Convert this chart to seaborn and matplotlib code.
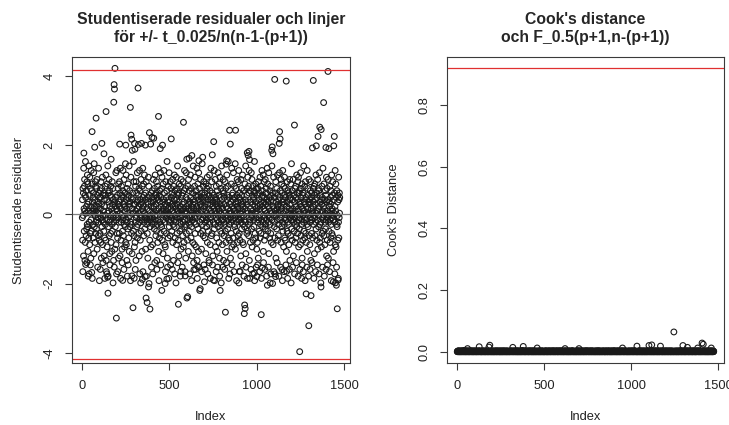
import numpy as np
import pandas as pd
import matplotlib
matplotlib.use('Agg')
import matplotlib.pyplot as plt
import seaborn as sns

# Studentized residuals, one character per observation (Index 1..n).
# Code position k in CODE gives the value (k - 30.5) * 0.065, so '0' = -1.98, 'U' = -0.03,
# 'V' = 0.03, 'z' = 1.98. Larger residuals are listed separately below.
CODE = '0123456789ABCDEFGHIJKLMNOPQRSTUVWXYZabcdefghijklmnopqrstuvwxyz'
resid_rows = [
    'TbJ5gUeCpSXNhkWAdIsRcVLfYO9jQmZPiE3WaKqURdHlVM8gYBSoNfTiG2aWQcKeXnDVrPY4bIUjhMRAWOgSkFdY7VaTLpRZeJ1c',
    'VMf6XcIjTBZgaPSlHU9dRWeNoCYbK2UhQdJmXA5SbTGiVOqZ3ePaWkLRfD8YSdMhUtIcXEQjNZVg0bTAeRK7WaFiYPcUnHSd4XoM',
    'WdK5TgZBiRaYMjQeCVp2XbJRhUdF9SNVfoTLcZ6kQaGWeYPrIUSmHbXAgR3cVOi8TdKZqEYfPUaJ1RlWcQMhSD7XeVTbNsZjLUG4',
    'ZcI6RhWAjTUePaXnKQbSV9dMgYCoRWfTJb0ZkNUHaSEhQXp5cYWiLRdVmOT8bYFeUKj3SQXgMcRBaZlVhTNd2WJqUPSkGaYe7RcI',
    'TfH4VaQkXCbYOgR9UmSdZLeWjNA6cQUhIbSpTEX1dVKfRaZnM8QcYgPTlJW3aSDiXbUoNVeRHZdG5YjTWcMfQsUB7aXKhVb2SnPY',
    'RaLjU8XgSEcTNeZ6WkIYQdAhVPbmS4UfKYcR0XlHbZMgTq9WdJSeVCaiURNXY3hTbFkQOWdU7ZeLjRGcXaIfSoPV5TgQBcWnMYt2',
    'VbJ8ShXEkUZdNfQ4TaRmcWKgY1PjUCSeIZbqV9XLaRHhTlMU6dQfGWcYpA2SXiOVdEnT7bUgJRa3ZkMYWcF5eSrQNVTbLhXj8dUI',
    'YeK6RcWDiTSaPgVlIZ4bUhNXdA9QmRZfH2TbpWLcVjMeS8YCaURgJdXoO1WbQkGcTZ5hVKaSEfY7UnPXdRIiWB3ZlTcVNgQ0SqMY',
    'XbH7UfSkARZeLcV6QjNWTgIaY9RmEbUdOhXsKS2VcQJfZ4WlBTaRMiVpG8YdSeKbUnHX5QWhPcTrF3ZaVgN1RdkYIUXaLjSo0cMW',
    'SeJ5VbXCkRTgOdZ8WmIQYaHfU3SjPcXiKbRqD7VaZdMgT2WlNUQhLeYoA9ScRfIaX6VnOTUkGdW4ZhJbScPfQs1YeMVaKiT7XgFR',
    'WdI8RgYBjSTbNeU5XlKZQhMaV2ScoHYfPdRmE9UaXjJcT6WkOQZeLgS3VbpGUiNaY7RnDXTcKfQ0WhM4VbIdZqS8eRYgHaUl5XcP',
    'RcK4WeTjBVUaOgX9SmJYZdLbQ3VhnFScMfT7YkIWXiPeU1RoNaVbGhZ5QlKdTgJcW8SpEXYaNjU2RfMVQeHdX6TkAbZcLiS0WrOU',
    'UfJ7XbSkCRVdNaZ4TgIWQhKcY9UmPeRbMjW3XlGSTeOfV6ZaHnYcLgQ2SiB8XdJeU5RqNVWaKhT1ZjMcSfIbY7QoEXUgPdV3WkLa',
    'ZbH6RfTjAUXcMeS9VlKWYaNgQ2UhDdTiLbZ5RmOXVeJcW8SkFaUgPfX4YnITQdKaR0VjGbZhMcT7WpNSYeLiU3XbHRVfOdQ6SlCa',
    'TgJ8WbXkBUReNaY5VhISZcKfQ1TmMWXdLjU9SgEaVbOeR4YoHTWiGcZ7QfPSUaJdX2RlKbTeVc',
]

# larger residuals that can be read one by one (Index, residual)
tail_idx = [188, 183, 185, 181, 320, 276, 137, 80, 437, 580, 57, 280, 284, 385, 400,
            410, 215, 250, 300, 322, 340, 362, 392, 447, 460, 510, 113, 72, 125, 10,
            287, 302, 612, 628, 668, 690, 1102, 1168, 1323, 1407, 1382, 844, 878, 1215, 753,
            848, 1130, 1133, 1128, 1360, 1368, 1443, 1350, 1318, 1340, 1395, 1412, 1440, 945, 955,
            950, 958, 1088, 1085, 1092, 827, 824, 745,
            20, 40, 55, 148, 196, 291, 366, 372, 388, 380, 383, 232, 142, 146, 285,
            298, 330, 345, 360, 456, 475, 485, 551, 600, 604, 565, 590, 640, 660, 673,
            676, 700, 790, 820, 930, 933, 928, 1025, 1107, 1145, 1170, 1282, 1310, 1297, 1245,
            1367, 1460, 1438, 1455, 1450, 1465, 900, 960, 985, 1000, 1030, 752, 1060, 1090]
tail_val = [4.22, 3.75, 3.62, 3.24, 3.65, 3.09, 2.97, 2.78, 2.83, 2.66, 2.39, 2.29, 2.17, 2.36, 2.22,
            2.2, 2.03, 2.0, 2.05, 2.02, 2.05, 2.0, 2.03, 1.9, 2.0, 2.18, 2.05, 1.94, 1.75, 1.77,
            1.85, 1.88, 1.62, 1.7, 1.55, 1.65, 3.9, 3.85, 3.87, 4.13, 3.23, 2.43, 2.43, 2.58, 2.1,
            2.03, 2.39, 2.18, 2.05, 2.52, 2.45, 2.25, 2.25, 1.92, 1.98, 1.93, 1.9, 1.98, 1.78, 1.82,
            1.7, 1.58, 1.95, 1.85, 1.75, 1.55, 1.45, 1.72,
            -1.45, -1.72, -1.68, -2.28, -3.0, -2.7, -2.42, -2.55, -2.74, -2.1, -2.0, -1.91, -1.72, -1.82, -1.78,
            -1.85, -1.72, -1.88, -1.8, -2.2, -2.0, -1.87, -2.6, -2.42, -2.38, -1.65, -1.78, -1.6, -1.5, -2.2,
            -2.15, -1.95, -2.2, -2.83, -2.62, -2.72, -2.87, -2.9, -1.8, -1.6, -1.65, -2.3, -2.35, -3.22, -3.97,
            -2.1, -2.73, -1.95, -2.05, -1.98, -1.9, -1.65, -1.85, -1.7, -1.8, -1.55, -1.9, -2.05, -2.0]

# Cook's distance in thousandths, one digit per observation
cook_rows = [
    '0102100310200101020010300120010210100401100201003001200201001003001020010021001230010020100200100301',
    '1001200100030100102100100203001200100010002010300120100012000100300102102001000100020103001010200100',
    '2001030010010020010210030002010020110030100020001003010020010010300200210001020100300100021000201010',
    '0010020301120001002001003001012001020003010200100030100200100201000301001040200110200010300100200101',
    '1030010020000120030120100010020300100200100203001001001002032001000102003020001010010300200201001000',
    '0100302010200010030001020010201030000201001021003020010020100300100102102003000100102003011200010020',
    '3001020010010003020110200010030201000100100302001000101003022001030001010020010010200010300301002001',
    '0020103000100201002030100010020100200310001030020112000100030102001020100030201002010001002010030001',
    '1002000301003010020020010200100100301002102000100003002010102000100302010200010010030200010010200301',
    '0201003001100020010003020100201001000301002010020030100200010100301020200100010010200030100100201002',
    '1003001020010020030120010201000030100002102000103001003010002010002010030100020010020100030200100102',
    '0102003001200010020010300100020100200301002100010030010200100100030201120001000300102001001030001020',
    '2001020010030010020110020003000102010020100030200102010010003010020100010020030120010300100102000100',
    '1030020010010020100320010002000102030001102001030000102001023001000100020010302010100020300201001002',
    '01020030012000100302010020100010300100200201003001100201020003001020010201',
]
# Cook's distance values that stand above the band
cook_idx = [188, 183, 1245, 1297, 1407, 1414, 1102, 1118, 1168, 1033, 127, 380, 320,
            1323, 1382, 1460, 620, 700, 950, 60, 460]
cook_val = [0.021, 0.015, 0.064, 0.02, 0.028, 0.024, 0.02, 0.022, 0.018, 0.018, 0.016, 0.017, 0.014,
            0.014, 0.012, 0.012, 0.01, 0.01, 0.012, 0.01, 0.012]

t_crit = 4.17   # t_0.025/n(n-1-(p+1))
f_crit = 0.92   # F_0.5(p+1, n-(p+1))

resid_code = ''.join(resid_rows)
cook_code = ''.join(cook_rows)
n = min(len(resid_code), len(cook_code))

resid = np.array([(CODE.index(c) - 30.5) * 0.065 for c in resid_code[:n]])
resid[np.array(tail_idx) - 1] = tail_val
cook = np.array([int(c) / 1000 for c in cook_code[:n]])
cook[np.array(cook_idx) - 1] = cook_val

df = pd.DataFrame({'Index': np.arange(1, n + 1), 'resid': resid, 'cook': cook})

sns.set_style('ticks')
plt.rcParams['font.family'] = ['Liberation Sans', 'DejaVu Sans']
plt.rcParams['axes.unicode_minus'] = False

fig = plt.figure(figsize=(7.29, 4.25), dpi=100)
ax1 = fig.add_axes([72 / 729, 62 / 425, 278 / 729, 306 / 425])
ax2 = fig.add_axes([447 / 729, 62 / 425, 277 / 729, 306 / 425])

pts = dict(marker='o', s=17, facecolor='none', edgecolor='#1a1a1a', linewidth=0.8)
sns.scatterplot(data=df, x='Index', y='resid', ax=ax1, **pts)
sns.scatterplot(data=df, x='Index', y='cook', ax=ax2, **pts)

ax1.axhline(0, color='#808080', lw=0.9)
ax1.axhline(t_crit, color='#e03030', lw=0.9)
ax1.axhline(-t_crit, color='#e03030', lw=0.9)
ax2.axhline(f_crit, color='#e03030', lw=0.9)

# R style limits: data range + 4%
xpad = 0.04 * (n - 1)
for ax in (ax1, ax2):
    ax.set_xlim(1 - xpad, n + xpad)
ylo, yhi = resid.min(), resid.max()
ax1.set_ylim(ylo - 0.04 * (yhi - ylo), yhi + 0.04 * (yhi - ylo))
ax2.set_ylim(-0.04 * f_crit, f_crit * 1.04)

ax1.set_yticks([-4, -2, 0, 2, 4])
ax2.set_yticks([0.0, 0.2, 0.4, 0.6, 0.8])

ax1.set_title('Studentiserade residualer och linjer\nför +/- t_0.025/n(n-1-(p+1))',
              fontsize=11.3, fontweight='bold', pad=11, linespacing=1.2)
ax2.set_title("Cook's distance\noch F_0.5(p+1,n-(p+1))",
              fontsize=11.3, fontweight='bold', pad=11, linespacing=1.2)
ax1.set_ylabel('Studentiserade residualer', fontsize=9.3, labelpad=13, color='#222222')
ax2.set_ylabel("Cook's Distance", fontsize=9.3, labelpad=13, color='#222222')

for ax in (ax1, ax2):
    ax.set_xticks([0, 500, 1000, 1500])
    ax.set_xlabel('Index', fontsize=9.3, labelpad=14, color='#222222')
    for sp in ax.spines.values():
        sp.set_visible(True)
        sp.set_color('#3a3a3a')
        sp.set_linewidth(0.8)
    ax.tick_params(direction='out', length=5, width=0.8, color='#3a3a3a',
                   labelsize=9.3, labelcolor='#222222', pad=7)
    ax.tick_params(axis='y', labelrotation=90)
    plt.setp(ax.get_yticklabels(), va='center')

fig.savefig('out.png', dpi=100)
